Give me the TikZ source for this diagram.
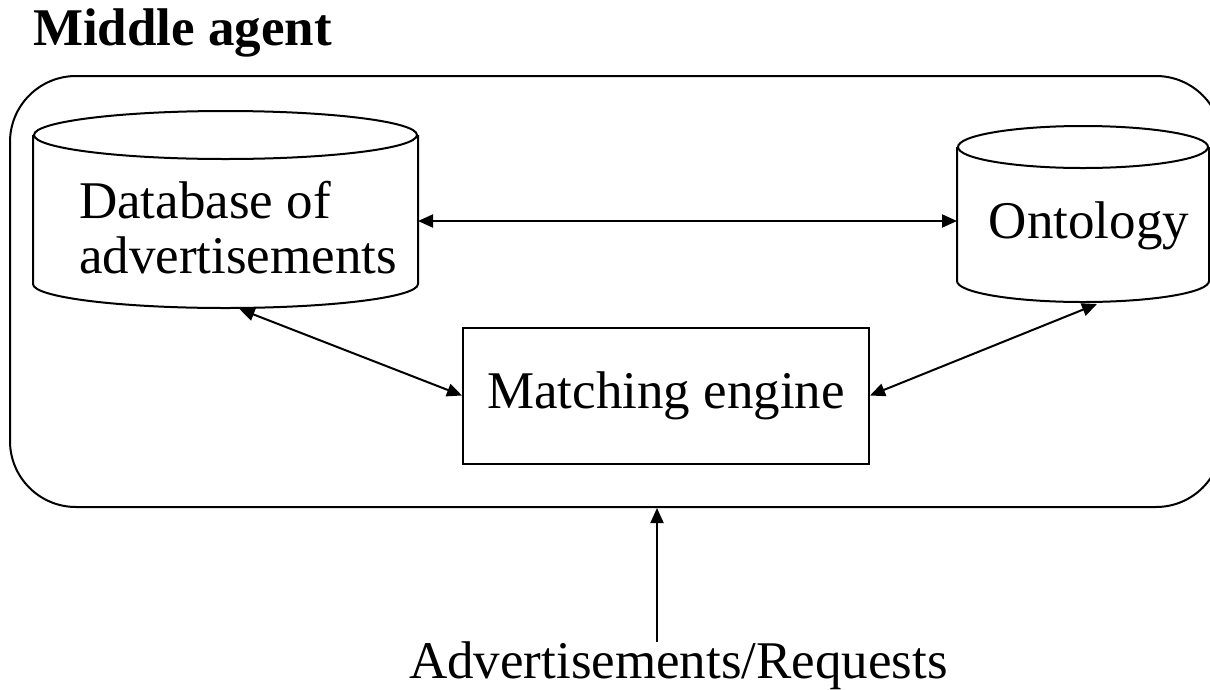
\documentclass[tikz,border=0pt]{standalone}
\usepackage{fontspec}
\setmainfont{Liberation Serif}
\usetikzlibrary{arrows.meta,calc}

% Outline of a storage drum around an (undrawn) node: #1 node, #2 x radius, #3 y radius
\newcommand\drumoutline[3]{%
  \draw ($(#1.north)+(0,#3)$) ellipse [x radius=#2, y radius=#3];
  \draw ($(#1.north west)+(0,#3)$) -- ($(#1.south west)+(0,-#3)$)
    .. controls ($(#1.south west)+(0,{-0.4477*#3})$) and ($(#1.south)+({-0.5523*#2},0)$) .. (#1.south)
    .. controls ($(#1.south)+({0.5523*#2},0)$) and ($(#1.south east)+(0,{-0.4477*#3})$) .. ($(#1.south east)+(0,-#3)$)
    -- ($(#1.north east)+(0,#3)$);
}

\begin{document}
\begin{tikzpicture}[x=1pt, y=-1pt, line width=2pt,
  >={Triangle[length=15pt,width=13pt]},
  big/.style={font=\fontsize{53}{55}\selectfont, inner sep=0pt},
  drum/.style={inner sep=0pt, minimum width=#1},
  box/.style={draw, inner sep=0pt, minimum width=406pt, minimum height=136pt, font=\fontsize{53}{55}\selectfont}]

\clip (0,0) rectangle (1210,689);

% title
\node[font=\bfseries\fontsize{53}{53}\selectfont, inner sep=0pt, anchor=base west] (title) at (32,45) {Middle agent};

% agent frame
\node[draw, rounded corners=66pt, minimum width=1212pt, minimum height=431pt, inner sep=0pt] (frame) at (616,291.5) {};

% stores
\node[drum=383pt, minimum height=195pt] (db) at (225.5,209.5) {};
\drumoutline{db}{191.5}{24}
\node[big, align=left] (dblabel) at (238,227.5) {Database of\\advertisements};

\node[drum=250pt, minimum height=174pt] (onto) at (1083,214) {};
\drumoutline{onto}{125}{21}
\node[big] (ontolabel) at (1089,226) {Ontology};

% engine
\node[box] (me) at (666,395.5) {Matching engine};

% connectors
\draw[<->] ($(db.east)+(0,11.5)$) coordinate (h1) -- (h1 -| onto.west);
\draw[<->] ($(db.south)+(14,1)$) -- (me.west);
\draw[<->] (me.east) -- ($(onto.south)+(14,2)$);

% input
\node[big, anchor=base] (req) at (678.5,678) {Advertisements/Requests};
\draw[->] ($(req.north)+(-21.5,2)$) coordinate (in) -- (in |- frame.south);

\end{tikzpicture}
\end{document}
